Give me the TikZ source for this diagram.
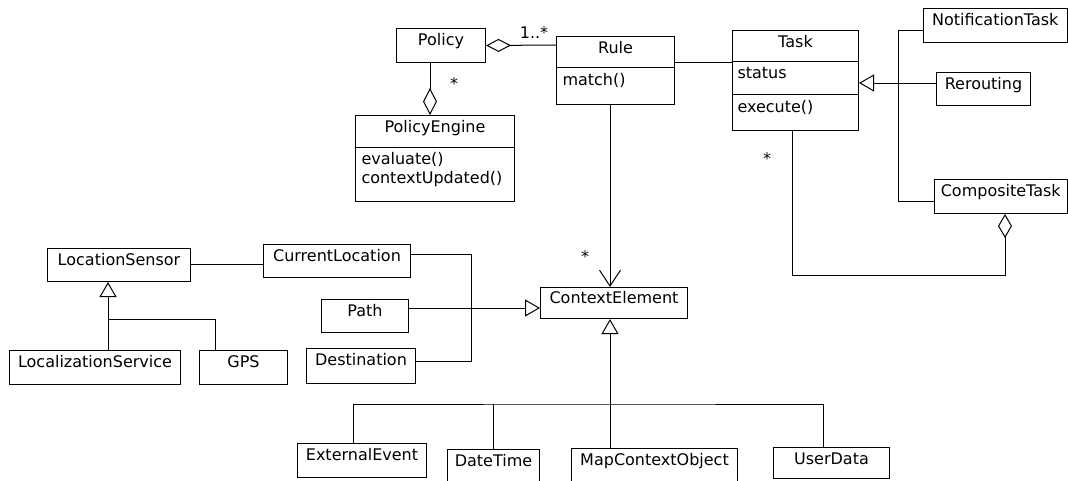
\documentclass[tikz,border=0pt]{standalone}
\usepackage{fontspec}
\setmainfont{DejaVu Sans}
\usetikzlibrary{arrows.meta,calc}

\tikzset{
  % class box given by its corners: {x1}{y1}{x2}{y2}
  cls/.style n args={4}{draw, rectangle, inner sep=0pt, anchor=north west,
    minimum width={#3-#1}, minimum height={#4-#2}, at={(#1,#2)}},
  cname/.style={inner sep=0pt, anchor=base},
  member/.style={inner sep=0pt, anchor=base west},
  mult/.style={inner sep=0pt, anchor=base},
  agg/.style={-{Diamond[open,length=25pt,width=13pt]}},
  gen/.style={-{Triangle[open,length=15pt,width=17pt]}},
  nav/.style={-{Straight Barb[length=16pt,width=21pt]}},
}

\begin{document}
\begin{tikzpicture}[x=1pt, y=-1pt, line width=1pt,
  font=\fontsize{16}{19}\selectfont]
  \path[use as bounding box] (0,0) rectangle (1068,480);
  \fill[white] (0,0) rectangle (1068,480);
  \clip (0,0) rectangle (1068,480);

  % ---------------- policy part ----------------
  \node[cls={396}{28}{485}{62}] (policy) {};
  \node[cname] (policy-n) at ($(policy.north)+(0,17.5)$) {Policy};

  \node[cls={556}{36}{674}{104}] (rule) {};
  \node[cname] (rule-n) at ($(rule.north)+(0,17.5)$) {Rule};
  \draw (rule.west |- 0,67) -- (rule.east |- 0,67);
  \node[member] (rule-m) at ($(rule.north west)+(6,49)$) {match()};

  \node[cls={355}{115}{514}{201}] (engine) {};
  \node[cname] (engine-n) at ($(engine.north)+(0,17.5)$) {PolicyEngine};
  \draw (engine.west |- 0,147) -- (engine.east |- 0,147);
  \node[member] (engine-m1) at ($(engine.north west)+(6,49)$) {evaluate()};
  \node[member] (engine-m2) at ($(engine.north west)+(6,68)$) {contextUpdated()};

  % ---------------- task part ----------------
  \node[cls={732}{30}{858}{130}] (task) {};
  \node[cname] (task-n) at ($(task.north)+(0,17.5)$) {Task};
  \draw (task.west |- 0,61) -- (task.east |- 0,61);
  \draw (task.west |- 0,94) -- (task.east |- 0,94);
  \node[member] (task-a) at ($(task.north west)+(5,48)$) {status};
  \node[member] (task-m) at ($(task.north west)+(5,82)$) {execute()};

  \node[cls={923}{8}{1066.5}{42}] (notif) {};
  \node[cname] (notif-n) at ($(notif.north)+(0,17.5)$) {NotificationTask};

  \node[cls={936}{72}{1030}{105}] (rerouting) {};
  \node[cname] (rerouting-n) at ($(rerouting.north)+(0,17.5)$) {Rerouting};

  \node[cls={934}{179}{1066.5}{213}] (composite) {};
  \node[cname] (composite-n) at ($(composite.north)+(0,17.5)$) {CompositeTask};

  % ---------------- location part ----------------
  \node[cls={47}{248}{190}{281}] (locsensor) {};
  \node[cname] (locsensor-n) at ($(locsensor.north)+(0,17.5)$) {LocationSensor};

  \node[cls={263}{244}{410}{277}] (curloc) {};
  \node[cname] (curloc-n) at ($(curloc.north)+(0,17.5)$) {CurrentLocation};

  \node[cls={9}{350}{180}{384}] (localization) {};
  \node[cname] (localization-n) at ($(localization.north)+(0,17.5)$) {LocalizationService};

  \node[cls={199}{350}{287}{384}] (gps) {};
  \node[cname] (gps-n) at ($(gps.north)+(0,17.5)$) {GPS};

  \node[cls={321}{299}{408}{332}] (path) {};
  \node[cname] (path-n) at ($(path.north)+(0,17.5)$) {Path};

  \node[cls={306}{348}{415}{383}] (destination) {};
  \node[cname] (destination-n) at ($(destination.north)+(0,17.5)$) {Destination};

  % ---------------- context part ----------------
  \node[cls={540}{287}{687}{318}] (context) {};
  \node[cname] (context-n) at ($(context.north)+(0,16.5)$) {ContextElement};

  \node[cls={297}{443}{426}{477}] (external) {};
  \node[cname] (external-n) at ($(external.north)+(0,17.5)$) {ExternalEvent};

  \node[cls={447}{449}{539}{495}] (datetime) {};
  \node[cname] (datetime-n) at ($(datetime.north)+(0,17.5)$) {DateTime};

  \node[cls={571}{448}{737}{495}] (mapctx) {};
  \node[cname] (mapctx-n) at ($(mapctx.north)+(0,17.5)$) {MapContextObject};

  \node[cls={773}{447}{889}{478}] (userdata) {};
  \node[cname] (userdata-n) at ($(userdata.north)+(0,17.5)$) {UserData};

  % ---------------- connectors ----------------
  % policy aggregates rules, engine aggregates policies
  \draw[agg] (rule.west |- 0,45) -- (policy.east);
  \draw[-{Diamond[open,length=27pt,width=14pt]}] (policy.south -| 430,0) -- (engine.north -| 430,0);
  \node[mult] (m-rules) at (534,38) {1..*};
  \node[mult] (m-policies) at (454,89) {*};

  % rule to task association
  \draw (rule.east |- 0,62) -- (task.west |- 0,62);

  % rule navigates to context elements
  \draw[nav] (rule.south -| 610,0) -- (context.north -| 610,0);
  \node[mult] (m-context) at (585,262) {*};

  % task specialisations
  \coordinate (tj) at (898,83);
  \draw[gen] (rerouting.west |- tj) -- (task.east |- tj);
  \draw (notif.west |- 0,30) -| (tj) |- (composite.west |- 0,201);

  % composite task aggregates tasks
  \coordinate (cb) at (1005,275);
  \draw[-{Diamond[open,length=24pt,width=14pt]}] (task.south -| 792,0) |- (cb) -- (composite.south -| cb);
  \node[mult] (m-tasks) at (767,164) {*};

  % location sensor
  \draw (locsensor.east |- 0,264) -- (curloc.west |- 0,264);
  \coordinate (lj) at (108,319);
  \draw[gen] (localization.north -| lj) -- (locsensor.south -| lj);
  \draw (gps.north -| 215,0) |- (lj);

  % location related context elements
  \coordinate (cd) at (471,361);
  \draw (curloc.east |- 0,254) -| (cd) -- (destination.east |- cd);
  \draw[gen] (path.east |- 0,308) -- (context.west |- 0,308);

  % context element specialisations
  \coordinate (sj) at (610,404);
  \coordinate (dj) at (493,404);
  \draw[gen] (mapctx.north -| sj) -- (context.south -| sj);
  \draw (external.north -| 353,0) |- (sj) -| (userdata.north -| 823,0);
  \draw (datetime.north -| dj) -- (dj);
\end{tikzpicture}
\end{document}
